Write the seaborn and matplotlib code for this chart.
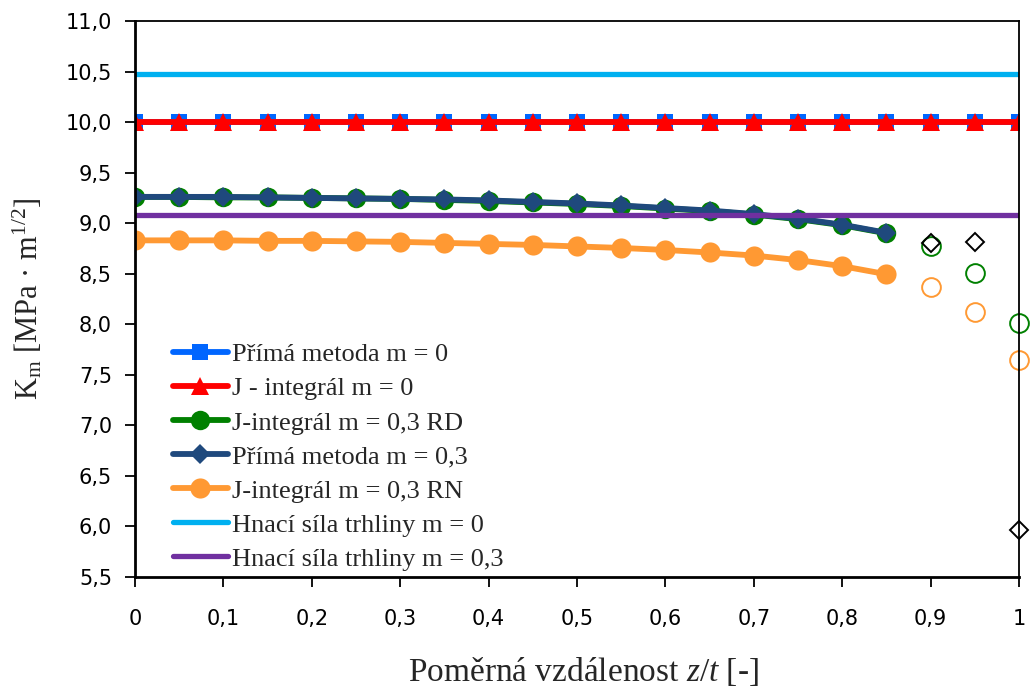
import numpy as np
import pandas as pd
import matplotlib
matplotlib.use("Agg")
import matplotlib.pyplot as plt
from matplotlib.lines import Line2D
import seaborn as sns

# ---------------- data ----------------
x_full = [0, 0.05, 0.1, 0.15, 0.2, 0.25, 0.3, 0.35, 0.4, 0.45, 0.5,
          0.55, 0.6, 0.65, 0.7, 0.75, 0.8, 0.85, 0.9, 0.95, 1.0]
prima_m0 = [10.0] * 21
jint_m0 = [10.0] * 21

x_part = [0, 0.05, 0.1, 0.15, 0.2, 0.25, 0.3, 0.35, 0.4, 0.45, 0.5,
          0.55, 0.6, 0.65, 0.7, 0.75, 0.8, 0.85]
jint_rd = [9.26, 9.26, 9.255, 9.255, 9.25, 9.245, 9.24, 9.23, 9.22, 9.205,
           9.19, 9.17, 9.145, 9.12, 9.085, 9.04, 8.98, 8.90]
prima_m03 = [9.26, 9.26, 9.26, 9.255, 9.25, 9.245, 9.24, 9.235, 9.225, 9.21,
             9.195, 9.175, 9.15, 9.125, 9.09, 9.045, 8.985, 8.905]
jint_rn = [8.83, 8.83, 8.83, 8.825, 8.825, 8.82, 8.815, 8.805, 8.795, 8.785,
           8.77, 8.755, 8.735, 8.71, 8.68, 8.635, 8.575, 8.495]

x_tail = [0.9, 0.95, 1.0]
rd_tail = [8.77, 8.51, 8.015]
prima_tail = [8.80, 8.81, 5.96]
rn_tail = [8.37, 8.12, 7.65]

hnaci_x = [0, 1]
hnaci_m0 = [10.48, 10.48]
hnaci_m03 = [9.085, 9.085]

labels = ["Přímá metoda m = 0", "J - integrál m = 0", "J-integrál m = 0,3 RD",
          "Přímá metoda m = 0,3", "J-integrál m = 0,3 RN",
          "Hnací síla trhliny m = 0", "Hnací síla trhliny m = 0,3"]
xticks = [0, 0.1, 0.2, 0.3, 0.4, 0.5, 0.6, 0.7, 0.8, 0.9, 1.0]
xticklabels = ["0", "0,1", "0,2", "0,3", "0,4", "0,5", "0,6", "0,7", "0,8", "0,9", "1"]
yticks = [5.5, 6.0, 6.5, 7.0, 7.5, 8.0, 8.5, 9.0, 9.5, 10.0, 10.5, 11.0]
yticklabels = ["5,5", "6,0", "6,5", "7,0", "7,5", "8,0", "8,5", "9,0", "9,5", "10,0", "10,5", "11,0"]

# ---------------- style ----------------
sns.set_style("ticks")
plt.rcParams["font.family"] = ["DejaVu Sans"]
plt.rcParams["mathtext.fontset"] = "custom"
plt.rcParams["mathtext.rm"] = "Liberation Serif"
plt.rcParams["mathtext.it"] = "Liberation Serif:italic"
plt.rcParams["mathtext.bf"] = "Liberation Serif:bold"

c_blue = "#0066FF"
c_red = "#FF0000"
c_green = "#008000"
c_navy = "#1F497D"
c_orange = "#FF9933"
c_cyan = "#00B0F0"
c_purple = "#7030A0"

fig = plt.figure(figsize=(10.3, 6.92), dpi=100)
ax = fig.add_axes([135 / 1030, 1 - 577 / 692, (1019 - 135) / 1030, (577 - 21) / 692])

lw = 4.2
sns.lineplot(x=x_full, y=prima_m0, ax=ax, color=c_blue, lw=lw, marker="s",
             markersize=11.5, markeredgecolor=c_blue, markeredgewidth=0, legend=False)
sns.lineplot(x=x_full, y=jint_m0, ax=ax, color=c_red, lw=lw, marker="^",
             markersize=13, markeredgecolor=c_red, markeredgewidth=0, legend=False)
sns.lineplot(x=x_part, y=jint_rd, ax=ax, color=c_green, lw=lw, marker="o",
             markersize=14, markeredgecolor=c_green, markeredgewidth=0, legend=False)
sns.lineplot(x=x_part, y=prima_m03, ax=ax, color=c_navy, lw=lw, marker="D",
             markersize=10.5, markeredgecolor=c_navy, markeredgewidth=0, legend=False)
sns.lineplot(x=x_part, y=jint_rn, ax=ax, color=c_orange, lw=lw, marker="o",
             markersize=14.5, markeredgecolor=c_orange, markeredgewidth=0, legend=False)
sns.lineplot(x=hnaci_x, y=hnaci_m0, ax=ax, color=c_cyan, lw=3.8, legend=False)
sns.lineplot(x=hnaci_x, y=hnaci_m03, ax=ax, color=c_purple, lw=3.8, legend=False)

# hollow tail points
ax.plot(x_tail, rd_tail, ls="none", marker="o", markersize=13.5,
        markerfacecolor="none", markeredgecolor=c_green, markeredgewidth=1.4, clip_on=False)
ax.plot(x_tail, rn_tail, ls="none", marker="o", markersize=13.5,
        markerfacecolor="none", markeredgecolor=c_orange, markeredgewidth=1.4, clip_on=False)
ax.plot(x_tail, prima_tail, ls="none", marker="D", markersize=9,
        markerfacecolor="none", markeredgecolor="black", markeredgewidth=1.4, clip_on=False)

ax.set_xlim(0, 1)
ax.set_ylim(5.5, 11.0)
ax.set_xticks(xticks)
ax.set_xticklabels(xticklabels)
ax.set_yticks(yticks)
ax.set_yticklabels(yticklabels)
ax.tick_params(axis="both", labelsize=15, length=7, width=1.3, color="black",
               labelcolor="black", direction="out")
ax.tick_params(axis="x", pad=16)
ax.tick_params(axis="y", pad=9.5)
for s in ax.spines.values():
    s.set_visible(True)
    s.set_color("black")
ax.spines["left"].set_linewidth(2.0)
ax.spines["bottom"].set_linewidth(2.0)
ax.spines["top"].set_linewidth(1.3)
ax.spines["right"].set_linewidth(1.3)

ax.set_xlabel(r"Poměrná vzdálenost $z/t$ [-]", fontsize=24, family="Liberation Serif",
              va="center")
ax.xaxis.set_label_coords((583 - 135) / 884, (577 - 672) / 556)
ax.set_ylabel(r"K$_\mathrm{m}$ [MPa · m$^{1/2}$]", fontsize=22, family="Liberation Serif",
              va="center")
ax.yaxis.set_label_coords((28 - 135) / 884, 0.5)

handles = [
    Line2D([], [], color=c_blue, lw=lw, marker="s", markersize=11.5, markeredgewidth=0),
    Line2D([], [], color=c_red, lw=lw, marker="^", markersize=13, markeredgewidth=0),
    Line2D([], [], color=c_green, lw=lw, marker="o", markersize=14, markeredgewidth=0),
    Line2D([], [], color=c_navy, lw=lw, marker="D", markersize=10.5, markeredgewidth=0),
    Line2D([], [], color=c_orange, lw=lw, marker="o", markersize=14.5, markeredgewidth=0),
    Line2D([], [], color=c_cyan, lw=3.8),
    Line2D([], [], color=c_purple, lw=3.8),
]
leg = ax.legend(handles, labels, loc="upper left",
                bbox_to_anchor=((173 - 135) / 884, (577 - 343) / 556),
                frameon=False, borderpad=0, borderaxespad=0, handlelength=2.08,
                handletextpad=0.15, labelspacing=0.4,
                prop={"family": "Liberation Serif", "size": 19})

fig.savefig("out.png", dpi=100)
